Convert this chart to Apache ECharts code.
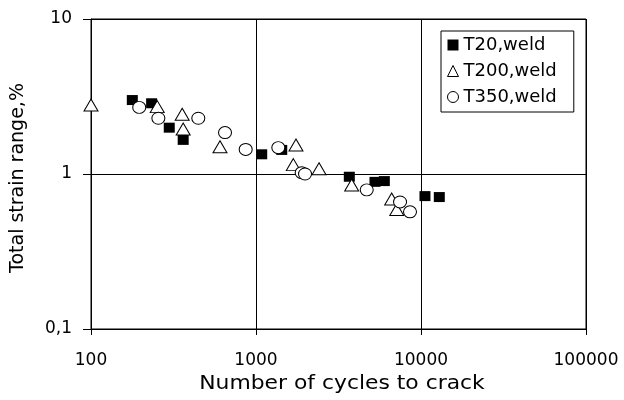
<!DOCTYPE html>
<html>
<head>
<meta charset="utf-8">
<script src="https://cdn.jsdelivr.net/npm/echarts@6/dist/echarts.min.js"></script>
<style>html,body{margin:0;padding:0;background:#fff}#c{width:624px;height:400px}</style>
</head>
<body>
<div id="c"></div>
<script>
const seriesNames = ['T20,weld', 'T200,weld', 'T350,weld'];
const t20 = [[178,3.0],[233,2.86],[298,1.99],[362,1.66],[1083,1.34],[1432,1.43],[3677,0.96],[5261,0.89],[5995,0.90],[10570,0.72],[12910,0.71]];
const t200 = [[100,2.79],[252,2.72],[357,2.43],[362,1.95],[605,1.50],[1683,1.15],[1747,1.54],[2410,1.08],[3801,0.85],[6640,0.69],[7130,0.59]];
const t350 = [[196,2.69],[256,2.29],[447,2.29],[649,1.85],[866,1.44],[1365,1.48],[1892,1.02],[1982,1.0],[4689,0.79],[7465,0.66],[8578,0.57]];
const xTitle = 'Number of cycles to crack';
const yTitle = 'Total strain range,%';

const font = 'DejaVu Sans';
const chart = echarts.init(document.getElementById('c'), null, {renderer: 'canvas'});
chart.setOption({
  animation: false,
  backgroundColor: '#fff',
  grid: {left: 91, right: 38, top: 19, bottom: 71, show: true, borderColor: '#000', borderWidth: 1, backgroundColor: 'transparent'},
  xAxis: {
    type: 'log', logBase: 10, min: 100, max: 100000,
    axisLine: {lineStyle: {color: '#000', width: 1}},
    axisTick: {show: true, length: 6, lineStyle: {color: '#000'}},
    minorTick: {show: false},
    splitLine: {show: true, lineStyle: {color: '#000', width: 1}},
    axisLabel: {color: '#000', fontFamily: font, fontSize: 17, margin: 23,
      formatter: v => String(Math.round(v))}
  },
  yAxis: {
    type: 'log', logBase: 10, min: 0.1, max: 10,
    axisLine: {lineStyle: {color: '#000', width: 1}},
    axisTick: {show: true, length: 8, lineStyle: {color: '#000'}},
    splitLine: {show: true, lineStyle: {color: '#000', width: 1}},
    axisLabel: {color: '#000', fontFamily: font, fontSize: 17, margin: 19,
      formatter: v => String(v).replace('.', ',')}
  },
  legend: {
    orient: 'vertical', left: 441, top: 31,
    padding: [4, 17, 5, 6], itemGap: 6, itemWidth: 11, itemHeight: 11,
    borderColor: '#000', borderWidth: 1, backgroundColor: '#fff',
    textStyle: {color: '#000', fontFamily: font, fontSize: 18, lineHeight: 20},
    data: [
      {name: seriesNames[0], icon: 'rect', itemStyle: {color: '#000', borderWidth: 0}},
      {name: seriesNames[1], icon: 'triangle', itemStyle: {color: '#fff', borderColor: '#000', borderWidth: 1}},
      {name: seriesNames[2], icon: 'circle', itemStyle: {color: '#fff', borderColor: '#000', borderWidth: 1}}
    ]
  },
  graphic: [
    {type: 'text', x: 342, y: 375, scaleX: 1.15, style: {text: xTitle, fontFamily: font, fontSize: 19, fill: '#000', align: 'center', verticalAlign: 'top'}},
    {type: 'text', rotation: Math.PI / 2, x: 9, y: 178, style: {text: yTitle, fontFamily: font, fontSize: 19, fill: '#000', align: 'center', verticalAlign: 'top'}}
  ],
  series: [
    {name: seriesNames[0], type: 'scatter', data: t20, symbol: 'rect', symbolSize: [11, 10], z: 3,
      itemStyle: {color: '#000', opacity: 1}},
    {name: seriesNames[1], type: 'scatter', data: t200, symbol: 'triangle', symbolSize: [14, 12], z: 4,
      itemStyle: {color: '#fff', borderColor: '#000', borderWidth: 1, opacity: 1}},
    {name: seriesNames[2], type: 'scatter', data: t350, symbol: 'circle', symbolSize: [13, 12], z: 5,
      itemStyle: {color: '#fff', borderColor: '#000', borderWidth: 1, opacity: 1}}
  ]
});
</script>
</body>
</html>
